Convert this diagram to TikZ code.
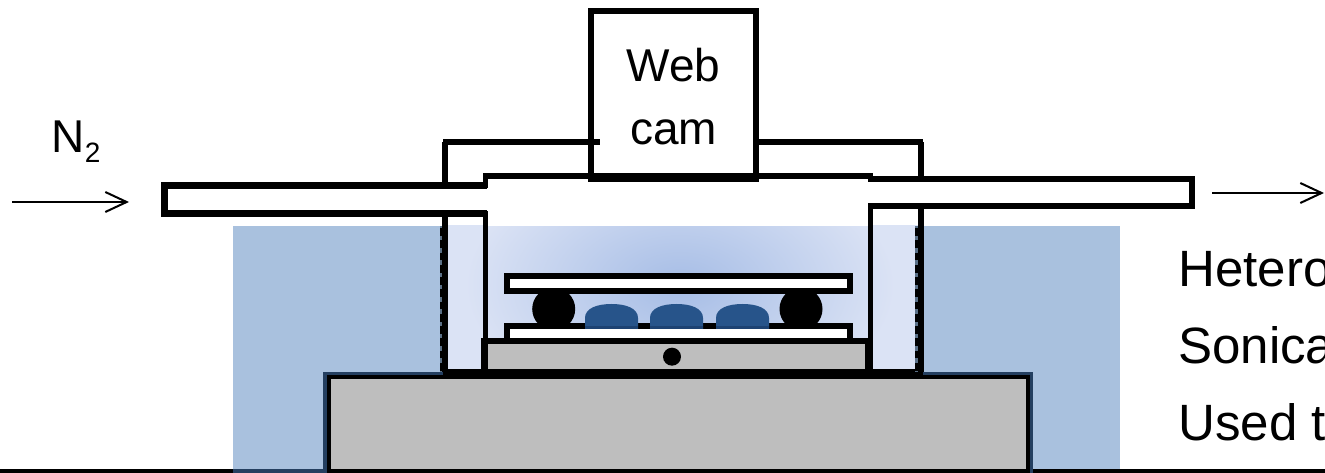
\documentclass[tikz,border=0pt]{standalone}
\usepackage{fontspec}
\setmainfont{Liberation Sans}
\usepackage{tikz}
\usetikzlibrary{arrows.meta,positioning,calc}
\pgfdeclareradialshading{bathglow}{\pgfpointorigin}{rgb(0bp)=(0.65,0.74,0.90); rgb(12.5bp)=(0.86,0.89,0.96); rgb(50bp)=(0.86,0.89,0.96)}
\definecolor{bathblue}{HTML}{A9C1DE}
\definecolor{edgenavy}{HTML}{243F60}
\definecolor{edgeslate}{HTML}{5A7087}
\definecolor{dropblue}{HTML}{27548A}
\definecolor{dropdark}{HTML}{1D4272}
\definecolor{stagegray}{HTML}{BEBEBE}

\begin{document}
\begin{tikzpicture}[
  x=0.75pt, y=-0.75pt,
  wall/.style={line width=4.1pt, line join=miter},
  plate/.style={draw, line width=4.5pt, fill=white},
  lab/.style={inner sep=0pt, font=\fontsize{34.5}{47.25}\selectfont},
  side/.style={inner sep=0pt, anchor=base west, font=\fontsize{38.3}{46}\selectfont},
  arr/.style={-{Straight Barb[length=16pt, width=15pt, line width=1.5pt]}, line width=1.5pt}
]
\useasboundingbox (0,0) rectangle (1325,473);

% ---------- Bath ----------
\fill[bathblue] (233,226) rectangle (1120,470);
\begin{scope}
  \clip (445,226) rectangle (920,375);
  \shade[shading=bathglow] (250,25) rectangle (1110,545);
\end{scope}

% ---------- Floor and base ----------
\draw[line width=3pt] (0,471) -- (1325,471);
\draw[edgenavy, line width=3pt] (233,471) -- (325,471);
\draw[edgenavy, line width=5pt, fill=stagegray] (326.5,375.5) rectangle (1030,474);
\draw[line width=3pt] (328.5,377.5) rectangle (1028,471);
\draw[line width=6.6pt] (443,373.5) -- (923,373.5);

% ---------- Stage, plates, spacers, droplets ----------
\draw[line width=5pt, fill=stagegray] (484.5,341) rectangle (868.5,372);
\fill (672,356.7) circle (9);
\fill (553.7,309) circle (21.5);
\fill (801,309) circle (21.5);
\draw[plate] (507,276) rectangle (850,291.5);
\draw[plate] (507,326) rectangle (850,341);
\foreach \dropx in {585,650,716} {
  \fill[dropblue] (\dropx,329) -- ++(0,-11) .. controls +(0,-10) and +(-14,0) .. ++(26.5,-14)
    .. controls +(14,0) and +(0,-10) .. ++(26.5,14) -- ++(0,11) -- cycle;
  \fill[dropdark] (\dropx,326) rectangle ++(53,3);
}

% ---------- Jacket ----------
\draw[edgeslate, line width=2pt] (441,226) -- (441,372);
\draw[line width=2pt, dash pattern=on 5.8pt off 3.4pt] (441,228) -- (441,372);
\draw[edgeslate, line width=2.4pt] (916.7,226) -- (916.7,372);
\draw[line width=2.4pt, dash pattern=on 5.8pt off 3.4pt] (916.7,228) -- (916.7,372);
\draw[wall] (444.8,372) -- (444.8,142);
\draw[wall] (920.8,372) -- (920.8,142);

% ---------- Web cam ----------
\node[draw, line width=4.5pt, fill=white, minimum width=123.75pt, minimum height=124.9pt,
  inner sep=0pt] (webcam) at (673.5,94.25) {};
\node[lab, align=center, yshift=-1.9pt] (webcamtext) at (webcam.center) {Web\\cam};
\draw[wall] (443,142) -- (600,142);
\draw[wall] (756,142) -- (923,142);

% ---------- Gas tube and lid ----------
\draw[line width=5pt, fill=white] (487,185.5) -- (164.5,185.5) -- (164.5,213.5) -- (487,213.5);
\draw[line width=4.5pt, fill=white] (868,179) -- (1192,179) -- (1192,206.5) -- (868,206.5);
\fill[white] (488,179) rectangle (868,226);
\draw[line width=4.2pt] (485.3,188) -- (485.3,176) -- (873,176);
\draw[line width=6.6pt] (588,178) -- (759,178);
\draw[wall] (485.3,211) -- (485.3,372);
\draw[wall] (870.7,204) -- (870.7,372);

% ---------- Labels and flow ----------
\node[lab, anchor=base west] (gasin) at (51.5,153) {N\raisebox{-7.5pt}{\fontsize{21}{21}\selectfont 2}};
\coordinate (inA) at (12,202);
\coordinate (inB) at (129,202);
\draw[arr] (inA) -- (inB);
\coordinate (outA) at (1212,193);
\coordinate (outB) at (1324,193);
\draw[arr] (outA) -- (outB);
\node[side] (lineone) at (1178,287) {Hetero};
\node[side] (linetwo) at (1178,364) {Sonica};
\node[side] (linethree) at (1178,441) {Used t};
\end{tikzpicture}
\end{document}
